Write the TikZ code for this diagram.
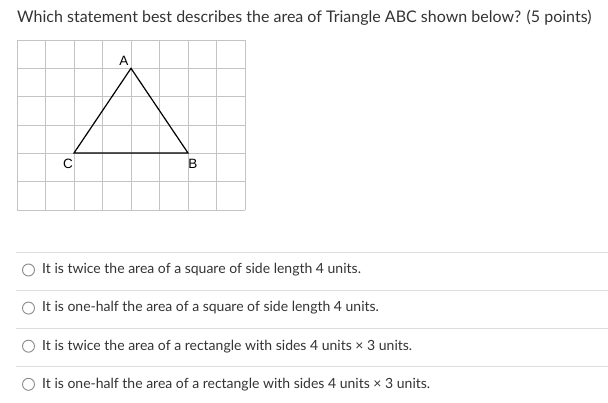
\documentclass[tikz,border=0pt]{standalone}
\usepackage{fontspec}
\setmainfont{Lato}
\newfontfamily\labelfont{Liberation Sans}
\definecolor{gridgray}{HTML}{C4C4C4}
\definecolor{rulegray}{HTML}{DDDDDD}
\definecolor{textgray}{HTML}{333333}
\definecolor{radiogray}{HTML}{8A8A8A}
\begin{document}
\begin{tikzpicture}[x=1pt,y=-1pt,
  gridline/.style={draw=gridgray,line width=0.9pt},
  sideline/.style={draw=black,line width=1.2pt},
  vertexlabel/.style={font=\labelfont\fontsize{13.5}{13.5}\selectfont,inner sep=0pt},
  separator/.style={draw=rulegray,line width=0.9pt},
  radio/.style={circle,draw=radiogray,line width=0.9pt,minimum size=12pt,inner sep=0pt},
  answer/.style={anchor=west,inner sep=0pt,text=textgray,font=\fontsize{14}{16}\selectfont}]

\useasboundingbox (0,0) rectangle (608,403);

% Question
\node[anchor=west,inner sep=0pt,text=textgray,font=\fontsize{16}{19}\selectfont] (question) at (17,18)
  {Which statement best describes the area of Triangle ABC shown below? (5 points)};

% Grid
\foreach \i in {0,...,8}
  \draw[gridline] (17+28.5*\i,40) -- (17+28.5*\i,210);
\foreach \j in {0,...,6}
  \draw[gridline] (17,40+28.33*\j) -- (245,40+28.33*\j);

% Triangle ABC
\coordinate (A) at (131,68.33);
\coordinate (B) at (188,153);
\coordinate (C) at (74,153);
\draw[sideline,line join=miter] (A) -- (B) -- (C) -- cycle;

\node[vertexlabel] (labelA) at (124,61) {A};
\node[vertexlabel] (labelB) at (193,164) {B};
\node[vertexlabel] (labelC) at (68,164) {C};

% Answers
\foreach \k/\txt in {0/{It is twice the area of a square of side length 4 units.},
                     1/{It is one-half the area of a square of side length 4 units.},
                     2/{It is twice the area of a rectangle with sides 4 units × 3 units.},
                     3/{It is one-half the area of a rectangle with sides 4 units × 3 units.}}{
  \draw[separator] (16,252.5+38.1*\k) -- (608,252.5+38.1*\k);
  \node[radio] (radio\k) at (28.5,270+38.1*\k) {};
  \node[answer] (answer\k) at (42,270+38.1*\k) {\txt};
}

\end{tikzpicture}
\end{document}
